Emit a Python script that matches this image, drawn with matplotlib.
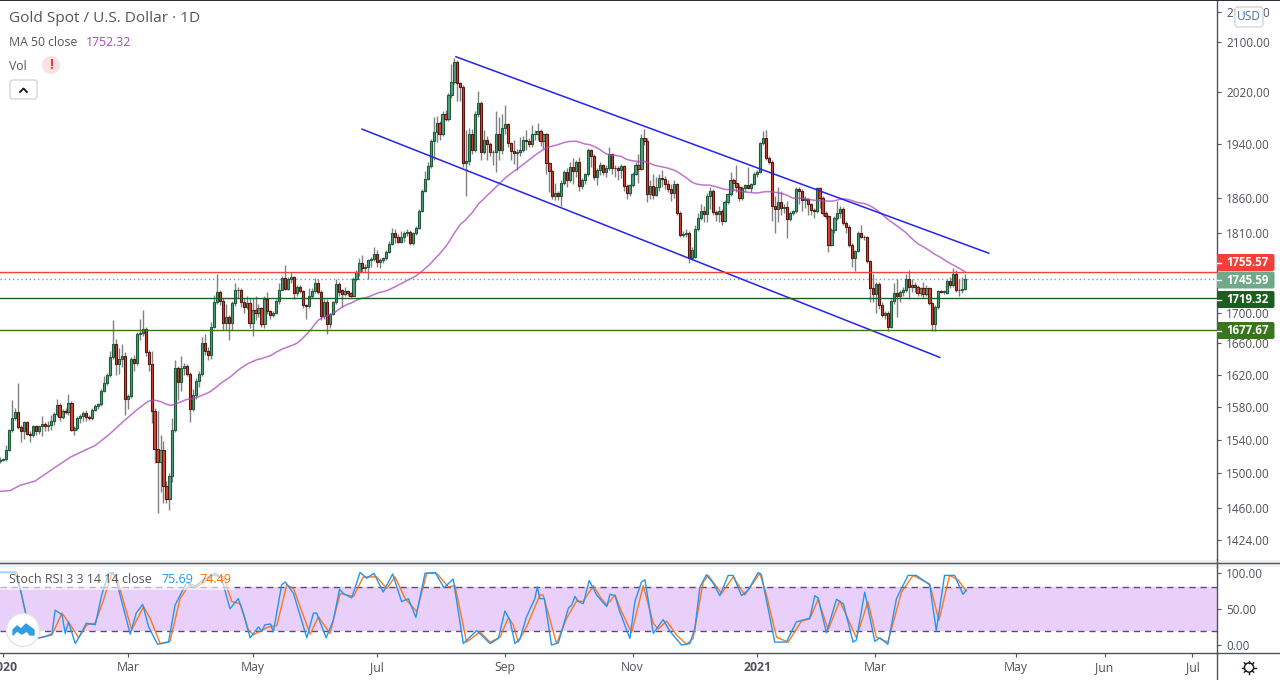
import matplotlib
matplotlib.use("Agg")
import matplotlib.pyplot as plt
from matplotlib.patches import Rectangle, FancyBboxPatch, Circle, Polygon
import numpy as np

plt.rcParams['font.family'] = ['Open Sans', 'DejaVu Sans']

opens = [
1515,1516,1517,1528,1551,1566,1573,1555,1550,1561,
1547,1545,1556,1550,1556,1559,1557,1558,1562,1571,
1582,1567,1575,1573,1585,1552,1554,1566,1569,1572,
1567,1566,1576,1581,1583,1600,1610,1619,1642,1659,
1634,1640,1644,1589,1593,1640,1635,1672,1674,1679,
1649,1634,1575,1529,1513,1527,1485,1470,1497,1552,
1628,1611,1629,1631,1621,1577,1594,1612,1621,1660,
1650,1645,1682,1714,1728,1716,1686,1695,1686,1713,
1731,1730,1715,1708,1713,1686,1704,1700,1706,1685,
1718,1702,1697,1700,1716,1731,1747,1732,1745,1748,
1727,1735,1729,1710,1709,1722,1729,1740,1728,1696,
1715,1685,1699,1714,1739,1730,1725,1729,1726,1723,
1745,1755,1768,1760,1762,1771,1773,1780,1769,1772,
1774,1783,1794,1809,1803,1797,1803,1810,1811,1795,
1809,1817,1841,1870,1887,1906,1944,1958,1971,1955,
1985,1977,2015,2036,2067,2034,2027,1911,1914,1954,
1931,1985,2003,1927,1946,1940,1927,1928,1954,1930,
1964,1970,1941,1929,1926,1928,1931,1946,1944,1940,
1954,1955,1959,1944,1954,1911,1899,1862,1866,1862,
1881,1897,1885,1905,1899,1912,1877,1886,1894,1930,
1922,1890,1901,1908,1897,1904,1924,1904,1903,1901,
1907,1877,1867,1878,1895,1908,1902,1949,1944,1865,
1877,1864,1876,1889,1887,1880,1873,1867,1880,1838,
1807,1808,1810,1774,1776,1815,1830,1841,1836,1862,
1870,1839,1836,1840,1827,1853,1865,1885,1881,1876,
1859,1874,1878,1874,1880,1894,1898,1941,1949,1918,
1913,1848,1843,1854,1845,1846,1829,1838,1840,1872,
1870,1857,1858,1850,1842,1841,1874,1860,1838,1833,
1793,1813,1830,1838,1843,1824,1818,1793,1775,1784,
1809,1804,1803,1770,1733,1725,1739,1710,1697,1700,
1682,1716,1726,1722,1728,1731,1745,1735,1737,1735,
1726,1733,1725,1733,1713,1685,1708,1729,1728,1727,
1743,1737,1752,1730,1731,1732]
closes = [
1516,1517,1527,1551,1566,1573,1555,1550,1561,1547,
1545,1556,1550,1556,1559,1557,1558,1562,1571,1582,
1567,1575,1573,1585,1552,1554,1566,1569,1572,1567,
1566,1576,1581,1583,1600,1610,1619,1642,1659,1634,
1640,1644,1589,1593,1640,1635,1672,1674,1679,1649,
1634,1575,1529,1513,1527,1485,1470,1497,1552,1628,
1611,1629,1631,1621,1577,1594,1612,1621,1660,1650,
1645,1682,1714,1728,1716,1686,1695,1686,1713,1731,
1730,1715,1708,1713,1686,1704,1700,1706,1685,1718,
1702,1697,1700,1716,1731,1747,1732,1745,1748,1727,
1735,1729,1710,1709,1722,1729,1740,1728,1696,1715,
1685,1699,1714,1739,1728,1725,1729,1726,1723,1745,
1755,1768,1760,1762,1771,1773,1780,1769,1772,1774,
1783,1794,1809,1803,1797,1803,1810,1811,1795,1809,
1817,1841,1870,1887,1906,1944,1958,1971,1955,1985,
1977,2015,2036,2067,2034,2027,1911,1914,1954,1931,
1985,2003,1927,1946,1940,1927,1928,1954,1930,1964,
1970,1941,1929,1926,1928,1931,1946,1944,1940,1954,
1955,1959,1944,1954,1911,1899,1862,1866,1862,1881,
1897,1885,1905,1899,1912,1877,1886,1894,1930,1922,
1890,1901,1908,1897,1904,1924,1904,1903,1901,1907,
1877,1867,1878,1895,1908,1902,1949,1944,1865,1877,
1864,1876,1889,1887,1880,1873,1867,1880,1838,1807,
1808,1810,1774,1786,1815,1830,1841,1836,1862,1870,
1839,1836,1840,1827,1853,1865,1885,1881,1876,1859,
1874,1878,1874,1880,1894,1898,1941,1949,1918,1913,
1848,1843,1854,1845,1846,1829,1838,1840,1872,1870,
1857,1858,1850,1842,1841,1874,1860,1838,1833,1793,
1813,1830,1838,1843,1824,1818,1793,1775,1784,1809,
1804,1803,1770,1733,1725,1739,1710,1697,1700,1682,
1716,1726,1722,1728,1731,1745,1735,1737,1735,1726,
1733,1725,1733,1713,1685,1708,1729,1728,1729,1743,
1737,1752,1730,1731,1732,1745.59]
highs = [
1519,1518,1534,1553,1588,1578,1610,1558,1563,1563,
1550,1558,1558,1557,1568,1561,1563,1570,1573,1589,
1584,1577,1579,1596,1587,1556,1568,1571,1575,1576,
1570,1578,1583,1585,1602,1618,1622,1650,1690,1666,
1654,1659,1649,1596,1643,1645,1675,1692,1704,1682,
1652,1650,1578,1575,1546,1538,1491,1500,1566,1638,
1631,1644,1635,1633,1623,1602,1616,1625,1668,1672,
1655,1688,1724,1753,1730,1720,1712,1697,1716,1740,
1734,1733,1720,1722,1720,1720,1722,1712,1708,1723,
1728,1704,1702,1718,1740,1750,1765,1748,1755,1750,
1738,1737,1731,1712,1733,1733,1747,1746,1730,1718,
1718,1700,1716,1745,1742,1732,1735,1731,1728,1748,
1758,1775,1778,1766,1773,1776,1790,1786,1774,1776,
1785,1798,1817,1815,1808,1812,1812,1815,1813,1811,
1819,1843,1872,1899,1912,1947,1981,1983,1975,1990,
1992,2018,2065,2074,2070,2036,2030,1960,1963,1962,
1990,2022,2006,1960,1952,1943,1931,1990,1980,1985,
2000,1972,1943,1945,1932,1950,1952,1960,1948,1968,
1960,1972,1962,1956,1956,1913,1901,1881,1870,1885,
1900,1903,1912,1918,1915,1920,1888,1896,1933,1932,
1925,1903,1912,1910,1908,1935,1926,1908,1906,1910,
1908,1880,1880,1898,1912,1925,1955,1962,1948,1885,
1895,1890,1895,1900,1892,1885,1880,1885,1882,1840,
1812,1815,1812,1790,1820,1838,1850,1848,1866,1875,
1872,1842,1848,1844,1857,1867,1898,1888,1908,1880,
1877,1880,1905,1882,1897,1900,1943,1959,1960,1922,
1915,1862,1875,1870,1850,1855,1840,1842,1875,1876,
1872,1862,1860,1852,1845,1876,1876,1862,1840,1835,
1816,1833,1855,1848,1846,1826,1820,1795,1786,1812,
1820,1806,1805,1772,1752,1742,1741,1715,1702,1703,
1718,1740,1745,1730,1735,1752,1758,1745,1742,1738,
1735,1742,1738,1735,1715,1710,1731,1731,1731,1745,
1748,1760,1758,1745,1748,1752]
lows = [
1512,1514,1515,1526,1549,1564,1553,1537,1541,1545,
1537,1543,1546,1547,1544,1550,1550,1552,1558,1568,
1563,1565,1571,1570,1550,1546,1552,1560,1563,1563,
1564,1564,1575,1577,1581,1598,1607,1617,1640,1620,
1621,1630,1570,1577,1591,1625,1632,1665,1670,1644,
1625,1560,1512,1454,1478,1466,1466,1458,1490,1549,
1588,1600,1620,1618,1561,1575,1590,1605,1618,1645,
1638,1640,1680,1712,1710,1678,1677,1665,1678,1709,
1720,1708,1700,1705,1680,1670,1690,1695,1682,1680,
1698,1692,1695,1698,1712,1730,1730,1730,1740,1718,
1722,1726,1706,1692,1706,1720,1726,1725,1690,1692,
1672,1680,1697,1712,1723,1708,1722,1722,1721,1722,
1743,1750,1755,1755,1746,1762,1770,1762,1760,1768,
1772,1781,1792,1795,1795,1795,1797,1805,1792,1793,
1807,1815,1839,1868,1885,1904,1915,1942,1946,1952,
1974,1974,2010,2033,2006,2005,1905,1862,1908,1925,
1928,1980,1915,1925,1915,1922,1908,1898,1915,1925,
1955,1935,1915,1910,1900,1922,1928,1930,1935,1935,
1945,1945,1936,1932,1895,1868,1858,1856,1856,1848,
1878,1875,1883,1880,1890,1870,1873,1880,1892,1905,
1885,1878,1893,1893,1890,1900,1895,1890,1885,1888,
1870,1858,1862,1875,1893,1882,1900,1938,1854,1858,
1858,1862,1870,1875,1872,1868,1855,1860,1835,1803,
1804,1803,1768,1772,1774,1812,1828,1825,1825,1843,
1835,1826,1825,1820,1825,1850,1862,1870,1868,1855,
1857,1868,1872,1868,1878,1890,1896,1938,1915,1910,
1827,1810,1825,1835,1838,1802,1826,1835,1838,1850,
1840,1845,1835,1835,1830,1838,1845,1833,1829,1783,
1791,1810,1828,1830,1820,1810,1790,1762,1756,1782,
1802,1800,1768,1715,1715,1700,1705,1695,1692,1676,
1680,1712,1695,1715,1722,1728,1718,1728,1728,1722,
1722,1720,1723,1710,1676,1676,1705,1726,1725,1725,
1733,1734,1728,1722,1726,1730]

ma_bars = [0,3.4,6.7,11.8,16.8,23.6,32,37,41.5,46,49.4,51.6,57.2,62.9,69.6,74,78.6,83,88.7,94.3,98.8,102,105.5,108.9,
           111,114.5,120.6,126,130.8,137,141.4,145.9,149.8,154.3,159.9,163.8,169.4,175,180.7,186.3,192,197.5,203,208.7,214.4,
           221,226.7,232.3,238,243.5,249,254.8,259.2,264.8,269.4,276,282.8,291.7,296.2,300.7,306.3,313,317.5,322,325.4]
ma_vals = [1479,1480,1486,1491,1503,1519,1533,1547,1562,1576,1587,1589,1582,1589,1598,1611,1621,1636,1644,1654,1660,1673,1690,1697,
           1702,1711,1718,1726,1732,1744,1755,1773,1792,1822,1849,1869,1893,1914,1933,1946,1945,1938,1925,1920,1913,
           1908,1899,1882,1879,1873,1869,1867,1869,1860,1857,1855,1858,1850,1835,1819,1797,1783,1770,1761,1752]

k_bars = [0,5,7,9,10.7,13.5,17.4,18.5,20.8,21.9,23,25.3,27.5,29,32,34.2,36.5,38.2,39.8,43.8,45.8,48,50,53,56.7,58.9,62.9,65,68.5,72.4,74.6,77.4,80.2,81.9,84.2,87,88.1,89.2,91.1,92,94.8,96,98.8,103.3,105.5,106.6,109.8,112.2,114.3,115.6,118.4,121.2,123.5,125.9,129,132.2,135.2,137.5,140,143.1,146.5,149.5,152.6,156,160.5,165,167.8,
          170,171.7,173.4,175.1,177.3,180.1,180.9,181.8,183.3,185.7,188,191.4,192.5,193.6,194.7,196.4,198.4,200.9,204.3,205.4,207.1,208.7,212.1,213.8,216,217.2,220,223.3,225.6,229.5,232.3,234,235.7,237.9,240.2,242.4,245.2,246.9,249.7,252,255.3,256.4,260.9,264.8,268.2,272.7,274.4,275.5,278.3,281.7,284,287.3,288.4,291.2,294.6,296.3,299,301.9,305.8,308.6,313.1,315.3,318.1,321.5,324.3,325.4]
k_vals = [100,100,73,37,9,10,14,48,42,16,32,2,18,30,28,69,99,100,78,15,44,56,25,1,4,55,87,79,90,99,92,50,64,44,10,25,19,28,29,18,83,87,71,10,44,44,10,34,77,71,65,100,92,99,73,98,60,64,38,99,100,79,91,2,20,2,9,
          47,34,2,9,39,64,80,64,64,0,3,51,55,67,60,57,89,69,53,70,68,46,9,60,87,90,16,35,19,0,2,23,80,97,85,68,96,96,68,76,100,97,4,4,32,37,68,65,17,63,57,4,7,73,5,10,1,64,96,96,83,20,96,96,70,75.69]
d_bars = [0,5.6,8.4,10.7,14.6,17.7,20.8,24.1,26.4,29.2,32,34.8,37.6,39.3,44.3,48.3,50.5,53.9,57.2,60.6,64,66.2,71.8,75.2,78,80.8,83.6,85.3,89.8,93.2,96.5,98.8,104.4,107.2,111.1,114.5,119,122.3,126.8,130.2,133,136.4,140.3,143.7,147,151,153.2,157.1,161.6,165,168.4,
          171.2,172.8,174.5,177.3,181.8,182.9,187.4,190.8,194.2,196.4,199.8,202,204.3,207.1,209.3,212.7,216.6,220,221.6,224.5,227.8,231.2,233.4,236.8,238.5,243,246.9,250.8,255.9,258.1,261.5,265.4,269.9,272.7,275.5,278.9,282.8,288.4,292.3,295.1,299,303.6,307.5,313.1,316.2,319.8,322.6,325.4]
d_vals = [100,100,46,9,11,16,44,25,10,28,30,62,99,92,21,53,37,2,5,64,85,80,96,94,60,57,21,14,24,27,83,78,15,39,16,71,67,94,94,78,94,64,46,99,99,80,82,4,18,4,11,
          38,28,4,25,69,69,2,37,61,60,82,67,55,69,46,17,82,30,22,33,14,1,9,87,96,71,94,69,99,69,11,4,33,36,63,21,61,10,60,11,4,73,96,84,34,96,90,74.49]

upper_bars = [153.5, 333]
upper_vals = [2076, 1781]
lower_bars = [121.9, 316.5]
lower_vals = [1962, 1642]

hline_vals = [1755.57, 1719.32, 1677.67]
hline_cols = ['#f5403a', '#1b5e20', '#38761d']
last_close = 1745.59

price_ticks = [2150, 2100, 2020, 1940, 1860, 1810, 1700, 1660, 1620, 1580, 1540, 1500, 1460, 1424]
stoch_ticks = [100, 50, 0]
month_bars = [1, 43, 85, 127, 170, 213, 255, 294.6, 342, 372, 401.6]
month_labels = ['2020', 'Mar', 'May', 'Jul', 'Sep', 'Nov', '2021', 'Mar', 'May', 'Jun', 'Jul']

W, H = 1280, 680
fig = plt.figure(figsize=(W/100, H/100), dpi=100, facecolor='white')
def pane(l, t, r, b):
    return fig.add_axes([l/W, (H-b)/H, (r-l)/W, (b-t)/H])

GREY = '#50535e'
ax = pane(0, 1, 1216.5, 559)
x = np.arange(len(closes))
o, c, hi, lo = map(np.array, (opens, closes, highs, lows))
up = c >= o
ax.set_yscale('log')
ax.vlines(x, lo, hi, color='#808080', lw=1.0, zorder=2)
bot = np.minimum(o, c)
hgt = np.maximum(np.abs(c - o), 0.8)
ax.bar(x[up], hgt[up], bottom=bot[up], width=0.74, color='#4ea37e', edgecolor='#1f5a3b', lw=0.8, zorder=3)
ax.bar(x[~up], hgt[~up], bottom=bot[~up], width=0.74, color='#d5452f', edgecolor='#5a1610', lw=0.8, zorder=3)
ma_calc = np.convolve(c, np.ones(50) / 50, mode='valid')
ma_early = [(b, v) for b, v in zip(ma_bars, ma_vals) if b < 49]
ax.plot([b for b, _ in ma_early] + list(x[49:]), [v for _, v in ma_early] + list(ma_calc),
        color='#ab47bc', lw=1.1, alpha=0.75, zorder=4)
ax.plot(upper_bars, upper_vals, color='#2323ee', lw=1.1, zorder=5)
ax.plot(lower_bars, lower_vals, color='#2323ee', lw=1.1, zorder=5)
for v, col in zip(hline_vals, hline_cols):
    ax.axhline(v, color=col, lw=1.0, zorder=5)
ax.axhline(last_close, color='#6fa98a', lw=1.0, ls=(0, (1, 2)), zorder=1)
ax.set_xlim(-0.067, 409.7)
ax.set_ylim(1403, 2168.3)
ax.yaxis.tick_right()
ax.set_yticks(price_ticks)
ax.set_yticklabels([f'{t:.2f}' for t in price_ticks])
ax.minorticks_off()
ax.tick_params(axis='y', which='major', length=3, width=0.8, color=GREY, labelcolor=GREY, labelsize=8.5, pad=4)
ax.set_xticks([])
for s in ('left', 'top', 'bottom'):
    ax.spines[s].set_visible(False)
ax.spines['right'].set_color(GREY)
ax.spines['right'].set_linewidth(1)

ax2 = pane(0, 567, 1216.5, 653)
ax2.axhspan(20, 80, color='#e9d0fb', lw=0, zorder=1)
ax2.axhline(80, color='#5d4a6e', lw=1, ls=(0, (4.5, 3.5)), zorder=2)
ax2.axhline(20, color='#5d4a6e', lw=1, ls=(0, (4.5, 3.5)), zorder=2)
ax2.plot(k_bars, k_vals, color='#2196f3', lw=1.0, zorder=4)
ax2.plot(d_bars, d_vals, color='#ff6d00', lw=1.0, alpha=0.9, zorder=3)
ax2.set_xlim(-0.067, 409.7)
ax2.set_ylim(-11, 107.6)
ax2.yaxis.tick_right()
ax2.set_yticks(stoch_ticks)
ax2.set_yticklabels([f'{t:.2f}' for t in stoch_ticks])
ax2.set_xticks(month_bars)
ax2.set_xticklabels(month_labels)
ax2.tick_params(axis='y', length=3, width=0.8, color=GREY, labelcolor=GREY, labelsize=8.5, pad=4)
ax2.tick_params(axis='x', length=3, width=0.8, color=GREY, labelcolor=GREY, labelsize=8.8, pad=3)
for lab in ax2.get_xticklabels():
    if lab.get_text() in ('2020', '2021'):
        lab.set_fontweight('bold')
for s in ('left', 'top'):
    ax2.spines[s].set_visible(False)
for s in ('right', 'bottom'):
    ax2.spines[s].set_color(GREY)
    ax2.spines[s].set_linewidth(1)

# chrome in pixel coordinates
ov = fig.add_axes([0, 0, 1, 1], zorder=10)
ov.set_xlim(0, W); ov.set_ylim(H, 0); ov.axis('off'); ov.patch.set_alpha(0)
ov.add_patch(Rectangle((0, 0), W, 1.2, color='#2a2e39', lw=0))
ov.add_patch(Rectangle((0, 559.5), W, 7.5, color='#f0f0f0', lw=0))
ov.plot([0, W], [562.5, 562.5], color=GREY, lw=1)
ov.plot([1216.5, 1216.5], [559, 567], color=GREY, lw=1)
ov.plot([1216.5, 1216.5], [653, 680], color=GREY, lw=1)
ov.plot([1216.5, W], [653.3, 653.3], color=GREY, lw=1)

ov.text(9, 18, 'Gold Spot / U.S. Dollar · 1D', fontsize=11.1, color='#555555', va='center')
ov.text(9, 42, 'MA 50 close', fontsize=8.8, color='#555555', va='center')
ov.text(86, 42, '1752.32', fontsize=8.8, color='#ab47bc', va='center')
ov.text(9, 65.5, 'Vol', fontsize=8.8, color='#555555', va='center_baseline')
ov.add_patch(Circle((51, 65), 9, color='#fde0e0', lw=0))
ov.text(51, 65, '!', fontsize=10, color='#f23645', fontweight='bold', ha='center', va='center')
ov.add_patch(FancyBboxPatch((10, 80), 27, 19, boxstyle='round,pad=0,rounding_size=3', fc='white', ec='#d1d4dc', lw=1))
ov.plot([20, 23.5, 27], [92, 88.5, 92], color='#131722', lw=1.3)

# price labels on the axis
for val, yc, col in [('1755.57', 262.5, '#f5403a'), ('1745.59', 280, '#6fa98a'),
                     ('1719.32', 299.5, '#1b5e20'), ('1677.67', 330.5, '#38761d')]:
    ov.add_patch(FancyBboxPatch((1217, yc - 8.5), 57.5, 17, boxstyle='round,pad=0,rounding_size=2', fc=col, ec='none'))
    ov.plot([1217, 1221], [yc, yc], color='white', lw=1)
    ov.text(1226, yc, val, fontsize=8.3, color='white', fontweight='bold', va='center')

ov.add_patch(FancyBboxPatch((1235, 7), 28, 20, boxstyle='round,pad=0,rounding_size=3', fc='white', ec='#d1d4dc', lw=1))
ov.text(1249, 17, 'USD', fontsize=8.6, color='#4a6d9c', ha='center', va='center')

# stoch legend
ov.add_patch(Rectangle((0, 572), 235, 18, fc='white', ec='none', alpha=0.6))
ov.text(9, 579.5, 'Stoch RSI 3 3 14 14 close', fontsize=9.0, color='#555555', va='center')
ov.text(161, 579.5, '75.69', fontsize=9.0, color='#2196f3', va='center')
ov.text(199, 579.5, '74.49', fontsize=9.0, color='#ff6d00', va='center')

# logo badge
ov.add_patch(Circle((23, 630), 16.5, fc='white', ec='#e0e3eb', lw=1))
ov.add_patch(Polygon([(13, 635), (13, 630), (17, 626), (21, 629), (26, 624), (30, 627), (34, 630), (34, 635),
                      (30, 635), (27, 631), (22, 634), (17, 631)], closed=True, fc='#2f9fe0', ec='#2f9fe0', lw=1, joinstyle='round'))

# settings icon
ov.add_patch(Circle((1249, 667.5), 4.6, fc='white', ec='#131722', lw=1))
for a in np.arange(0, 360, 45):
    ca, sa = np.cos(np.radians(a)), np.sin(np.radians(a))
    ov.plot([1249 + 4.6 * ca, 1249 + 6.6 * ca], [667.5 + 4.6 * sa, 667.5 + 6.6 * sa], color='#131722', lw=1)

fig.savefig('out.png', dpi=100)
